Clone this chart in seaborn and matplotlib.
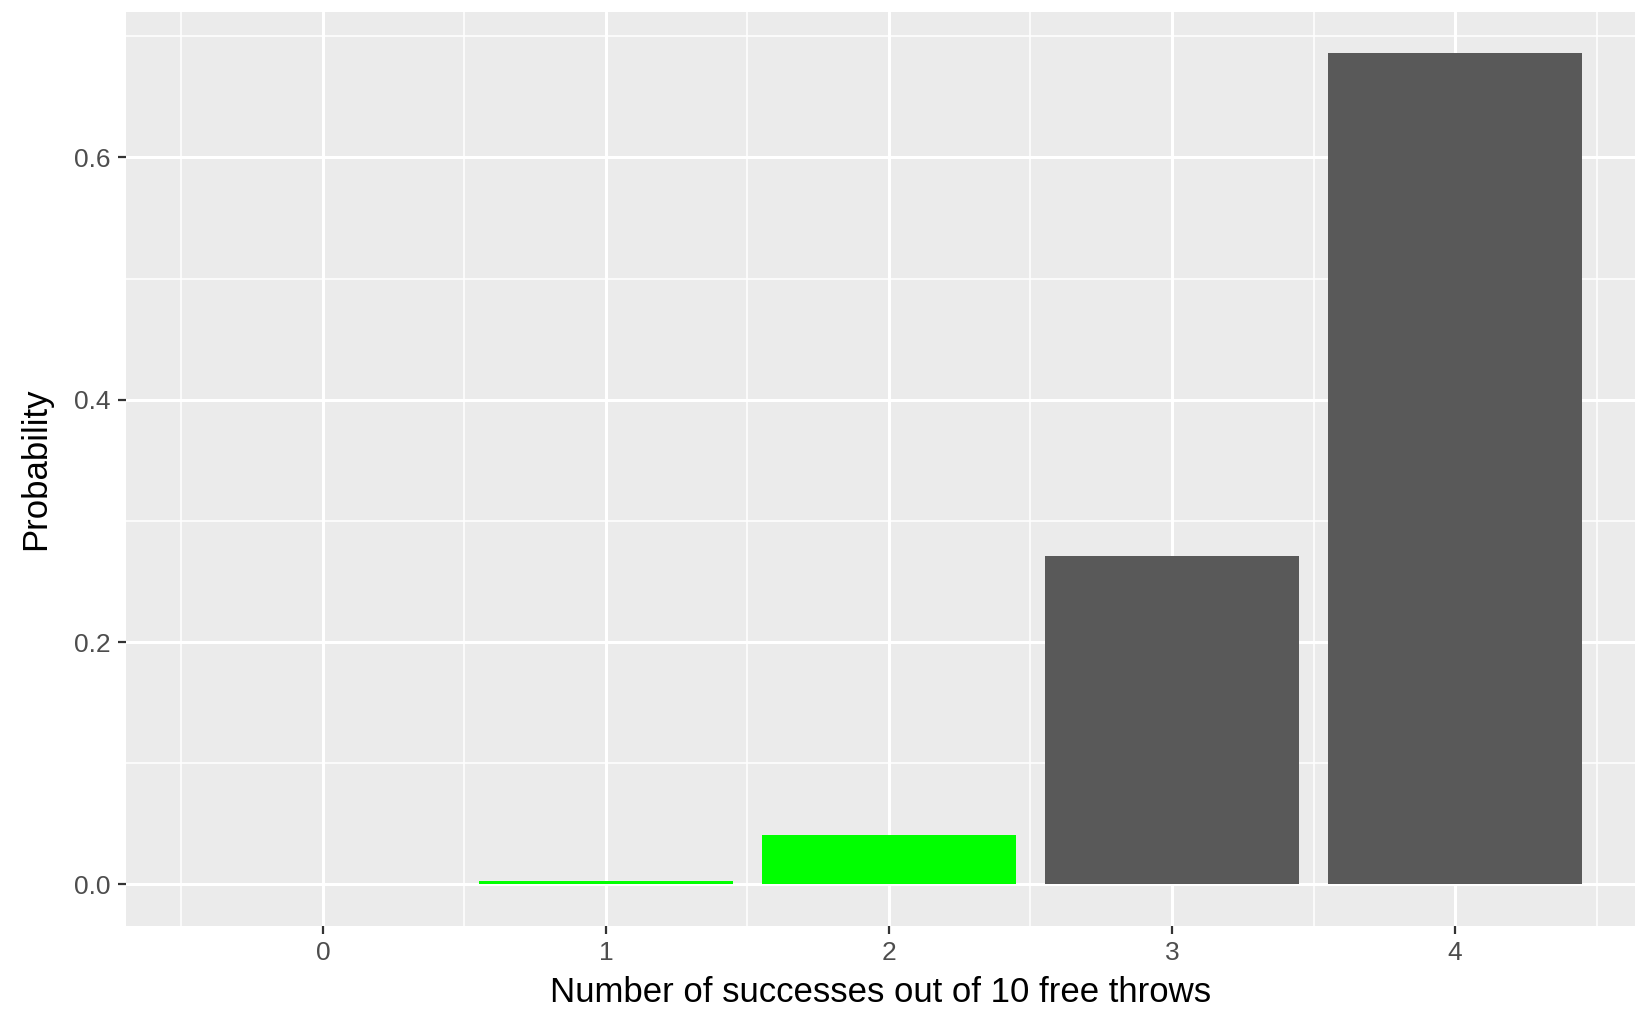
"""Binomial free-throw probabilities, ggplot-like bar chart"""
import matplotlib
matplotlib.use("Agg")
import matplotlib.pyplot as plt
from matplotlib.ticker import MultipleLocator
import seaborn as sns
import pandas as pd

# data
successes = ["0", "1", "2", "3", "4"]
probability = [0.0001, 0.003, 0.041, 0.271, 0.686]
highlight = ["low", "low", "low", "high", "high"]
bar_colors = {"low": "#00FF00", "high": "#595959"}

df = pd.DataFrame({"successes": successes, "probability": probability, "group": highlight})

sns.set_theme(style="darkgrid")
plt.rcParams["font.family"] = ["Liberation Sans", "DejaVu Sans"]

fig = plt.figure(figsize=(16.35, 10.09), dpi=100)
ax = fig.add_axes([126 / 1635, 83 / 1009, 1 - 126 / 1635, (926 - 12) / 1009])
ax.set_facecolor("#EBEBEB")

sns.barplot(data=df, x="successes", y="probability", hue="group", palette=bar_colors,
            order=successes, dodge=False, width=0.9, linewidth=0, legend=False,
            saturation=1, ax=ax, zorder=3)

ax.set_xlim(-0.696, 4.636)
ax.set_ylim(-0.0343, 0.72)
ax.yaxis.set_major_locator(MultipleLocator(0.2))
ax.yaxis.set_minor_locator(MultipleLocator(0.1))
ax.set_xticks(range(len(successes)))
ax.set_xticks([i - 0.5 for i in range(len(successes) + 1)], minor=True)
ax.set_yticklabels([f"{v:.1f}" for v in ax.get_yticks()])

ax.grid(which="major", color="white", linewidth=2.2, zorder=0)
ax.grid(which="minor", color="white", linewidth=1.1, zorder=0)
ax.set_axisbelow(True)
for s in ax.spines.values():
    s.set_visible(False)

ax.tick_params(axis="both", which="major", bottom=True, left=True, length=6, width=1.6,
               color="#333333", labelsize=19, labelcolor="#4D4D4D", pad=5)
ax.tick_params(axis="both", which="minor", bottom=False, left=False, length=0)

ax.set_xlabel("Number of successes out of 10 free throws", fontsize=25, color="black", labelpad=8)
ax.set_ylabel("Probability", fontsize=25, color="black", labelpad=16)

fig.savefig("out.png", dpi=100)
